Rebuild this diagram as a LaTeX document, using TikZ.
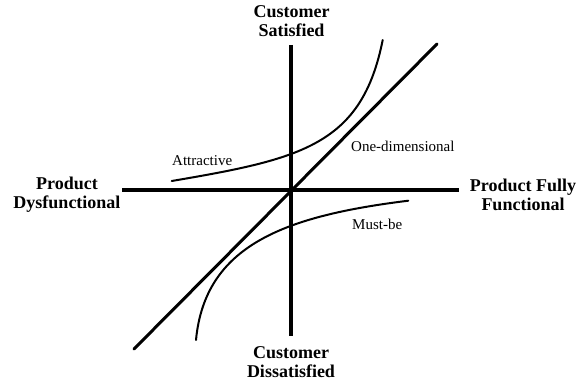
\documentclass[tikz,border=0pt]{standalone}
\usepackage{fontspec}
\setmainfont{Liberation Serif}
\begin{document}
\begin{tikzpicture}[x=1pt,y=-1pt,
  axis/.style={line width=4.5pt},
  diag/.style={line width=3pt, line cap=round},
  curve/.style={line width=2pt, line cap=round},
  biglabel/.style={font=\fontsize{18}{19}\selectfont\bfseries, align=center, inner sep=0pt, anchor=base},
  smalllabel/.style={font=\fontsize{15}{17}\selectfont, inner sep=0pt, anchor=base west}]
\useasboundingbox (0,0) rectangle (588,382);
\coordinate (O) at (291,190);
\coordinate (top) at (291,45);
\coordinate (bot) at (291,336);
\coordinate (left) at (122,190);
\coordinate (right) at (459,190);
\draw[axis] (left) -- (right);
\draw[axis] (top) -- (bot);
\coordinate (d1) at (134,349);
\coordinate (d2) at (437,44);
\draw[diag] (d1) -- (d2);
\coordinate (a0) at (171.7,181);
\coordinate (a1) at (382.7,40);
\draw[curve] (a0) .. controls (301.7,158.9) and (361.7,145) .. (a1);
\coordinate (m0) at (196,340);
\coordinate (m1) at (408.3,200.7);
\draw[curve] (m0) .. controls (205,245) and (285,216) .. (m1);
\node[smalllabel] (attr) at (172,165) {Attractive};
\node[smalllabel] (oned) at (351,151.5) {One-dimensional};
\node[smalllabel] (must) at (352,229.3) {Must-be};
\node[biglabel] (sat) at (291.5,37) {Customer\\Satisfied};
\node[biglabel] (dis) at (291,377) {Customer\\Dissatisfied};
\node[biglabel] (dys) at (67,208) {Product\\Dysfunctional};
\node[biglabel] (ful) at (523,210) {Product Fully\\Functional};
\end{tikzpicture}
\end{document}
